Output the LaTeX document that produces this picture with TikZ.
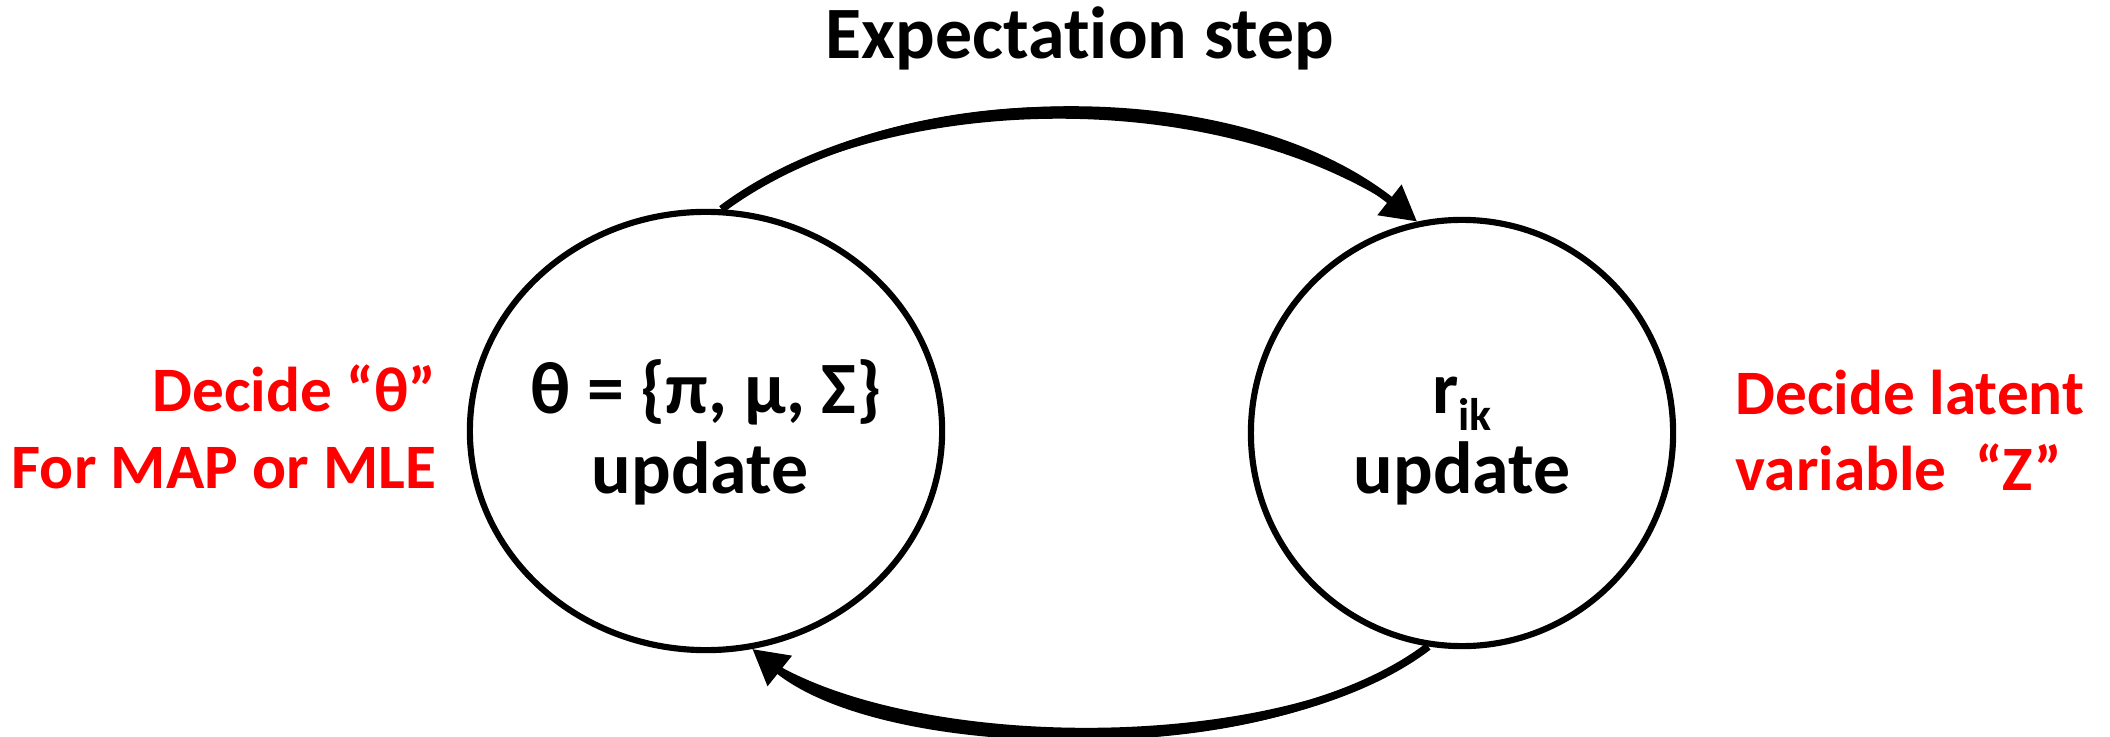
\documentclass[tikz,border=0pt]{standalone}
\usepackage{fontspec}
\setmainfont{Carlito}[Ligatures=NoCommon]
\usetikzlibrary{arrows.meta,shapes.geometric}
\begin{document}
\begin{tikzpicture}[x=0.01cm,y=-0.01cm,
  blob/.style={ellipse, draw, line width=1.75pt, inner sep=0pt},
  blk/.style={font=\fontsize{21}{25}\selectfont\bfseries, inner sep=0pt},
  redtxt/.style={font=\fontsize{18}{22}\selectfont\bfseries, text=red, inner sep=0pt},
  arr/.style={line width=2.2pt, -{Triangle[length=10pt,width=10.5pt]}},
  lens/.style={fill=black, draw=none}]
\useasboundingbox (0,0) rectangle (2110,737);
\node[blob, minimum width=4.72cm, minimum height=4.38cm] (L) at (706,431) {};
\node[blob, minimum width=4.22cm, minimum height=4.26cm] (R) at (1462,433) {};
\node[blk, anchor=base] (E) at (1080,59) {Expectation step};
\node[blk, anchor=base] (L1) at (706,413) {θ = \{π, μ, Σ\}};
\node[blk, anchor=base] (L2) at (700,493) {update};
\node[blk, anchor=base] (R1) at (1462,413) {r\raisebox{-0.17cm}{\fontsize{13}{13}\selectfont ik}};
\node[blk, anchor=base] (R2) at (1462,493) {update};
\node[redtxt, anchor=base east] (D1) at (437,412) {Decide “θ”};
\node[redtxt, anchor=base east] (D2) at (437,488) {For MAP or MLE};
\node[redtxt, anchor=base west] (Z1) at (1735,414) {Decide latent};
\node[redtxt, anchor=base west] (Z2) at (1735,490) {variable\ \ “Z”};
\fill[lens] (L.86) .. controls (891,74) and (1231,67) .. (R.102)
            .. controls (1231,83) and (891,90) .. (L.86) -- cycle;
\draw[arr] (L.86) .. controls (891,82) and (1231,75) .. (R.102);
\fill[lens] (R.261) .. controls (1273,757) and (891,752) .. (L.-78)
            .. controls (891,768) and (1273,773) .. (R.261) -- cycle;
\draw[arr] (R.261) .. controls (1273,765) and (891,760) .. (L.-78);
\end{tikzpicture}
\end{document}
